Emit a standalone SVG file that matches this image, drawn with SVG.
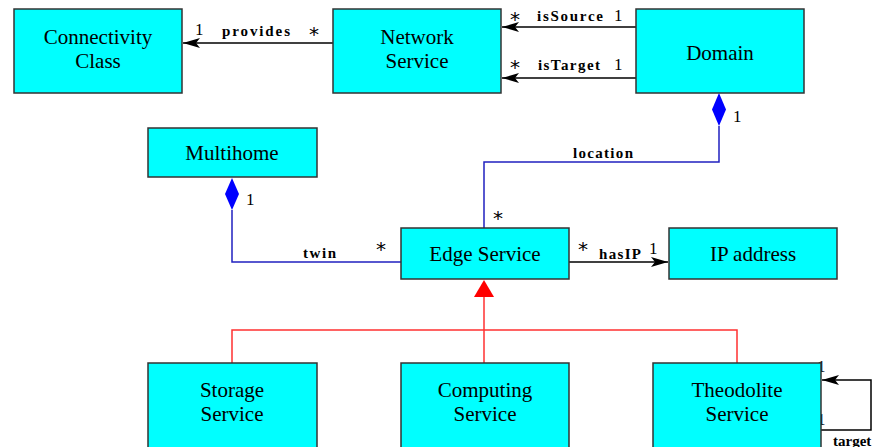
<svg xmlns="http://www.w3.org/2000/svg" width="872" height="447" viewBox="0 0 872 447">
<style>
.box{fill:#00ffff;stroke:#333;stroke-width:1.5}
.nl{font-family:'Liberation Serif','DejaVu Serif',serif;font-size:21px;fill:#000;text-anchor:middle}
.el{font-family:'Liberation Serif','DejaVu Serif',serif;font-size:15px;font-weight:bold;fill:#000}
.m{font-family:'Liberation Serif','DejaVu Serif',serif;font-size:17px;fill:#000}
.s{font-family:'DejaVu Sans',sans-serif;font-size:20px;fill:#000}
.blk{fill:none;stroke:#000;stroke-width:1.5}
.blu{fill:none;stroke:#2020c0;stroke-width:1.5}
.red{fill:none;stroke:#ff3030;stroke-width:1.5}
</style>
<defs>
<marker id="arr" markerWidth="18" markerHeight="10" refX="17" refY="5" orient="auto" markerUnits="userSpaceOnUse">
<path d="M0,0 L17,5 L0,10 L4,5 Z" fill="#000"/>
</marker>
</defs>
<rect width="872" height="447" fill="#fff"/>
<g id="connectors">
<line class="blk" x1="333" y1="43" x2="183" y2="43" marker-end="url(#arr)"/>
<line class="blk" x1="636" y1="27" x2="502" y2="27" marker-end="url(#arr)"/>
<line class="blk" x1="636" y1="78" x2="502" y2="78" marker-end="url(#arr)"/>
<polyline class="blu" points="484,228 484,162 719,162 719,126"/>
<path d="M719,93 L726,109.5 L719,126 L712,109.5 Z" fill="#0000ff"/>
<polyline class="blu" points="401,262 232,262 232,210"/>
<path d="M232,178 L239,194 L232,210 L225,194 Z" fill="#0000ff"/>
<line class="blk" x1="569" y1="262" x2="668" y2="262" marker-end="url(#arr)"/>
<polyline class="red" points="232,363 232,330 737,330 737,363"/>
<line class="red" x1="484" y1="363" x2="484" y2="296"/>
<path d="M484,280 L494,297 L474,297 Z" fill="#ff0000"/>
<polyline class="blk" points="821,430 871,430 871,380 822,380" marker-end="url(#arr)"/>
<text class="m" x="195" y="35">1</text>
<text class="el" x="222" y="36" textLength="68" lengthAdjust="spacing">provides</text>
<text class="s" x="309" y="41">*</text>
<text class="s" x="510" y="26">*</text>
<text class="el" x="537" y="21" textLength="66" lengthAdjust="spacing">isSource</text>
<text class="m" x="614" y="21">1</text>
<text class="s" x="510" y="74">*</text>
<text class="el" x="538" y="70" textLength="62" lengthAdjust="spacing">isTarget</text>
<text class="m" x="614" y="70">1</text>
<text class="m" x="733" y="122">1</text>
<text class="el" x="573" y="158" textLength="60" lengthAdjust="spacing">location</text>
<text class="s" x="493" y="225">*</text>
<text class="m" x="246" y="205">1</text>
<text class="el" x="303" y="258" textLength="33" lengthAdjust="spacing">twin</text>
<text class="s" x="376" y="256">*</text>
<text class="s" x="578" y="256">*</text>
<text class="el" x="599" y="259" textLength="42" lengthAdjust="spacing">hasIP</text>
<text class="m" x="649" y="254">1</text>
<text class="m" x="817" y="372" font-size="14">1</text>
<text class="m" x="817" y="425" font-size="14">1</text>
<text class="el" x="833" y="446">target</text>
</g>
<g id="connectivity-class"><rect class="box" x="14" y="9" width="168" height="84"/><text class="nl" x="98" y="44">Connectivity</text><text class="nl" x="98" y="68">Class</text></g>
<g id="network-service"><rect class="box" x="333" y="9" width="168" height="84"/><text class="nl" x="417" y="44">Network</text><text class="nl" x="417" y="68">Service</text></g>
<g id="domain"><rect class="box" x="636" y="9" width="168" height="84"/><text class="nl" x="720" y="60">Domain</text></g>
<g id="multihome"><rect class="box" x="148" y="128" width="169" height="49"/><text class="nl" x="232" y="160">Multihome</text></g>
<g id="edge-service"><rect class="box" x="401" y="228" width="168" height="51"/><text class="nl" x="485" y="261">Edge Service</text></g>
<g id="ip-address"><rect class="box" x="669" y="228" width="168" height="51"/><text class="nl" x="753" y="261">IP address</text></g>
<g id="storage-service"><rect class="box" x="148" y="363" width="169" height="90"/><text class="nl" x="232" y="397">Storage</text><text class="nl" x="232" y="421">Service</text></g>
<g id="computing-service"><rect class="box" x="401" y="363" width="168" height="90"/><text class="nl" x="485" y="397">Computing</text><text class="nl" x="485" y="421">Service</text></g>
<g id="theodolite-service"><rect class="box" x="653" y="363" width="168" height="90"/><text class="nl" x="737" y="397">Theodolite</text><text class="nl" x="737" y="421">Service</text></g>
</svg>
